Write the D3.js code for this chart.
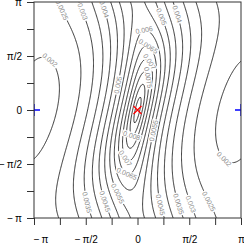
<!DOCTYPE html>
<html><head><meta charset="utf-8">
<script src="https://cdn.jsdelivr.net/npm/d3@7"></script>
<style>
body{margin:0;background:#fff}
svg{display:block}
text{font-family:"Liberation Sans",Arial,sans-serif}
</style>
</head><body>
<svg width="244" height="244"></svg>
<script>
var PI = Math.PI;
var tickValues = [-PI, -3*PI/4, -PI/2, -PI/4, 0, PI/4, PI/2, 3*PI/4, PI];
var tickLabels = ["\u2212\u2009\u03c0", "", "\u2212\u2009\u03c0/2", "", "0", "", "\u03c0/2", "", "\u03c0"];
var levels = [0.002, 0.0025, 0.003, 0.0035, 0.004, 0.0045, 0.005, 0.0055, 0.006, 0.0065, 0.007, 0.0075, 0.008, 0.0085];
// density: peak value and weights of
// (1-cos x), (1-cos y), (1-cos(x-y)), -sin x sin y
var peakDensity = 0.009;
var shapeWeights = [1.049, -0.119, 0.231, 0.06];
var modePoint = [0, 0];
var antiModes = [[-PI, 0], [PI, 0]];
// where the contour labels sit (level, x, y)
var labelLevels = [0.002, 0.002, 0.0025, 0.0025, 0.003, 0.003, 0.0035, 0.0035, 0.004, 0.004, 0.0045, 0.0045, 0.005, 0.005, 0.0055, 0.0055, 0.006, 0.0065, 0.0065, 0.007, 0.007, 0.0075, 0.008];
var labelX = [-2.72, 2.75, -2.44, 2.26, -1.72, 1.68, -1.65, 1.38, -1.11, 1.38, -1.14, 0.93, -0.87, 0.84, -0.84, 0.74, 0.11, 0.38, -0.38, 0.29, -0.29, 0.23, -0.2];
var labelY = [1.37, -1.31, 2.85, -2.62, 2.85, -2.70, -2.70, -2.70, 2.91, 2.85, -2.70, -2.70, 0.79, 2.76, -2.56, -0.64, 2.53, 1.95, -1.95, 1.37, -1.37, 0.93, -0.9];

var svg = d3.select("svg");
var boxL = 34, boxR = 241, boxT = 2, boxB = 218;
var x = d3.scaleLinear().domain([-PI, PI]).range([boxL, boxR]);
var y = d3.scaleLinear().domain([-PI, PI]).range([boxB, boxT]);

function density(a, b) {
    var w = shapeWeights;
    var q = w[0]*(1 - Math.cos(a)) + w[1]*(1 - Math.cos(b)) + w[2]*(1 - Math.cos(a - b)) - w[3]*Math.sin(a)*Math.sin(b);
    return peakDensity * Math.exp(-Math.sqrt(Math.max(q, 0)));
}

// grid a bit wider than the box so edge rings fall outside the clip
var n = 261, pad = 0.12;
var lo = -PI - pad, step = (2*PI + 2*pad)/(n - 1);
var values = new Array(n*n);
for (var j = 0; j < n; j++) {
    for (var i = 0; i < n; i++) {
        values[j*n + i] = density(lo + i*step, lo + j*step);
    }
}
var contours = d3.contours().size([n, n]).thresholds(levels)(values);
function gx(c) { return x(lo + (c - 0.5)*step); }
function gy(c) { return y(lo + (c - 0.5)*step); }
var proj = d3.geoTransform({point: function(px, py) { this.stream.point(gx(px), gy(py)); }});
var path = d3.geoPath(proj);

var defs = svg.append("defs");
defs.append("clipPath").attr("id", "plotclip")
    .append("rect").attr("x", boxL).attr("y", boxT).attr("width", boxR - boxL).attr("height", boxB - boxT);
var mask = defs.append("mask").attr("id", "gaps")
    .attr("maskUnits", "userSpaceOnUse").attr("x", 0).attr("y", 0).attr("width", 244).attr("height", 244);
mask.append("rect").attr("width", 244).attr("height", 244).attr("fill", "white");

var plot = svg.append("g").attr("clip-path", "url(#plotclip)");
plot.append("g").attr("mask", "url(#gaps)")
    .selectAll("path").data(contours).join("path")
    .attr("d", path)
    .attr("fill", "none")
    .attr("stroke", "#1a1a1a")
    .attr("stroke-width", 0.9);

// contour labels
var labelG = plot.append("g");
labelLevels.forEach(function(lv, k) {
    var c = contours.find(function(d) { return Math.abs(d.value - lv) < 1e-9; });
    if (!c) return;
    var tx = x(labelX[k]), ty = y(labelY[k]);
    var best = null;
    c.coordinates.forEach(function(poly) {
        poly.forEach(function(ring) {
            var pts = ring.map(function(p) { return [gx(p[0]), gy(p[1])]; });
            for (var m = 1; m < pts.length - 1; m++) {
                var p = pts[m];
                if (p[0] < boxL + 2 || p[0] > boxR - 2 || p[1] < boxT + 2 || p[1] > boxB - 2) continue;
                var d2 = (p[0]-tx)*(p[0]-tx) + (p[1]-ty)*(p[1]-ty);
                if (!best || d2 < best.d2) best = {d2: d2, pts: pts, m: m};
            }
        });
    });
    if (!best) return;
    var pts = best.pts, m = best.m;
    var a = pts[Math.max(m - 3, 0)], b = pts[Math.min(m + 3, pts.length - 1)];
    var ang = Math.atan2(b[1] - a[1], b[0] - a[0]) * 180 / PI;
    if (ang > 90) ang -= 180;
    if (ang <= -90) ang += 180;
    var p = pts[m];
    var t = labelG.append("text")
        .attr("transform", "translate(" + p[0] + "," + p[1] + ") rotate(" + ang + ")")
        .attr("text-anchor", "middle")
        .attr("dy", "0.35em")
        .attr("font-size", 7)
        .attr("fill", "#8c8c8c")
        .text(String(lv));
    var w = t.node().getComputedTextLength() + 2;
    mask.append("rect")
        .attr("transform", "translate(" + p[0] + "," + p[1] + ") rotate(" + ang + ")")
        .attr("x", -w/2).attr("y", -3.5).attr("width", w).attr("height", 7)
        .attr("fill", "black");
});

// mode (red x) and antimodes (blue +), clipped to the box like the lines
var mx = x(modePoint[0]), my = y(modePoint[1]);
plot.append("path")
    .attr("d", "M" + (mx-4) + "," + (my-4) + "L" + (mx+4) + "," + (my+4) + "M" + (mx-4) + "," + (my+4) + "L" + (mx+4) + "," + (my-4))
    .attr("fill", "none").attr("stroke", "#ff0000").attr("stroke-width", 1.3);
plot.selectAll(".anti").data(antiModes).join("path")
    .attr("class", "anti")
    .attr("d", function(d) {
        var px = x(d[0]), py = y(d[1]);
        return "M" + (px-6) + "," + py + "H" + (px+6) + "M" + px + "," + (py-6) + "V" + (py+6);
    })
    .attr("fill", "none").attr("stroke", "#0000ff").attr("stroke-width", 1.4);

// frame
svg.append("rect").attr("x", boxL).attr("y", boxT).attr("width", boxR - boxL).attr("height", boxB - boxT)
    .attr("fill", "none").attr("stroke", "#333").attr("stroke-width", 1);

// axes
var xAxis = d3.axisBottom(x).tickValues(tickValues).tickFormat(function(d, i) { return tickLabels[i]; }).tickSize(7).tickPadding(11);
var yAxis = d3.axisLeft(y).tickValues(tickValues).tickFormat(function(d, i) { return tickLabels[i]; }).tickSize(7).tickPadding(5);
var gxA = svg.append("g").attr("transform", "translate(0," + boxB + ")").call(xAxis);
var gyA = svg.append("g").attr("transform", "translate(" + boxL + ",0)").call(yAxis);
[gxA, gyA].forEach(function(g) {
    g.select(".domain").remove();
    g.selectAll("line").attr("stroke", "#333");
    g.selectAll("text").attr("font-size", 10).attr("fill", "#000").attr("font-family", "Liberation Sans, Arial, sans-serif");
});
// the leftmost bottom label sits to the right of its tick in the reference
gxA.selectAll(".tick text").filter(function(d, i) { return i === 0; }).attr("dx", 6.5);
</script>
</body></html>
